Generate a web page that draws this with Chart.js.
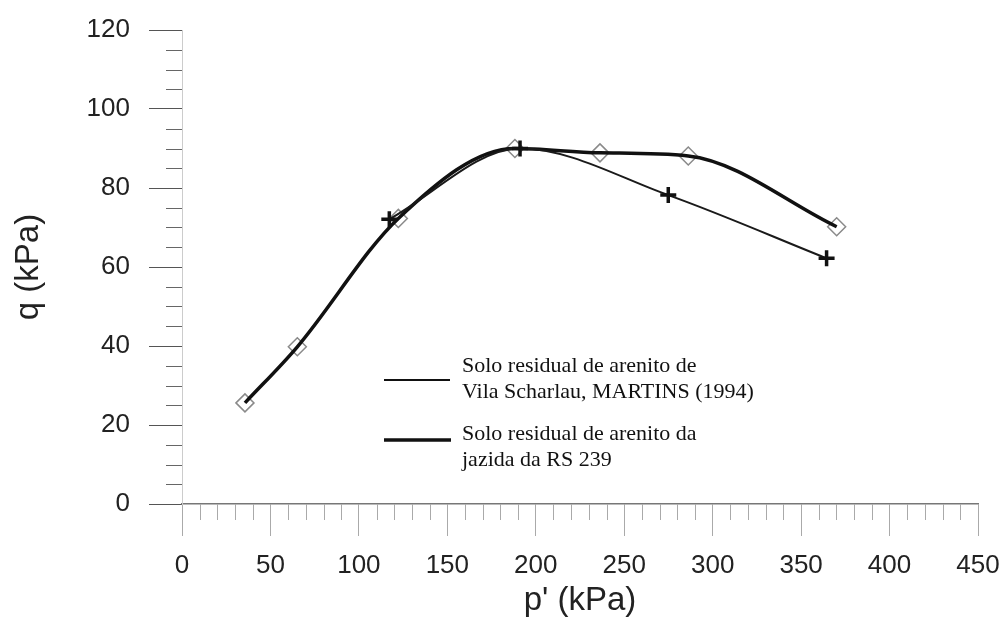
<!DOCTYPE html>
<html><head><meta charset="utf-8">
<script src="https://cdn.jsdelivr.net/npm/chart.js@4.4.0/dist/chart.umd.min.js"></script>
<style>html,body{margin:0;padding:0;background:#fff}#wrap{width:1006px;height:618px;position:relative}</style>
</head><body><div id="wrap"><canvas id="c" width="1006" height="618"></canvas></div>
<script>
// Data
const pRS239 = [35.6, 65.2, 122.3, 188.2, 236.3, 286.2, 370.1];
const qRS239 = [25.6, 39.8, 72.3, 90.0, 88.9, 88.1, 70.2];
const pMartins = [117.2, 191.1, 274.9, 364.4];
const qMartins = [72.1, 90.0, 78.2, 62.2];
const xTickValues = [0, 50, 100, 150, 200, 250, 300, 350, 400, 450];
const yTickValues = [0, 20, 40, 60, 80, 100, 120];
const labelMartins = ['Solo residual de arenito de', 'Vila Scharlau, MARTINS (1994)'];
const labelRS239 = ['Solo residual de arenito da', 'jazida da RS 239'];
const xTitle = "p' (kPa)";
const yTitle = 'q (kPa)';

const toXY = (xs, ys) => xs.map((x, i) => ({x: x, y: ys[i]}));

const minorTicks = {
  id: 'minorTicks',
  beforeDatasetsDraw(chart) {
    const ctx = chart.ctx, xs = chart.scales.x, ys = chart.scales.y;
    ctx.save();
    ctx.lineWidth = 1;
    ctx.strokeStyle = '#aaa';
    for (let v = 10; v < 450; v += 10) {
      if (v % 50 === 0) continue;
      const px = Math.round(xs.getPixelForValue(v)) + 0.5;
      ctx.beginPath(); ctx.moveTo(px, ys.bottom); ctx.lineTo(px, ys.bottom + 16); ctx.stroke();
    }
    ctx.strokeStyle = '#666';
    for (let v = 5; v < 120; v += 5) {
      if (v % 20 === 0) continue;
      const py = Math.round(ys.getPixelForValue(v)) + 0.5;
      ctx.beginPath(); ctx.moveTo(xs.left - 16, py); ctx.lineTo(xs.left, py); ctx.stroke();
    }
    ctx.restore();
  }
};

const textLegend = {
  id: 'textLegend',
  afterDraw(chart) {
    const ctx = chart.ctx;
    ctx.save();
    ctx.strokeStyle = '#111';
    ctx.lineWidth = 2;
    ctx.beginPath(); ctx.moveTo(384, 380); ctx.lineTo(450, 380); ctx.stroke();
    ctx.lineWidth = 3.5;
    ctx.beginPath(); ctx.moveTo(384, 440); ctx.lineTo(451, 440); ctx.stroke();
    ctx.fillStyle = '#111';
    ctx.font = '22px "Liberation Serif", "DejaVu Serif", serif';
    ctx.textBaseline = 'alphabetic';
    ctx.textAlign = 'left';
    ctx.fillText(labelMartins[0], 462, 372);
    ctx.fillText(labelMartins[1], 462, 398);
    ctx.fillText(labelRS239[0], 462, 440);
    ctx.fillText(labelRS239[1], 462, 466);
    ctx.restore();
  }
};

new Chart(document.getElementById('c'), {
  type: 'scatter',
  data: {
    datasets: [
      {
        label: labelMartins.join(' '),
        data: toXY(pMartins, qMartins),
        showLine: true,
        borderColor: '#1a1a1a',
        borderWidth: 2,
        cubicInterpolationMode: 'monotone',
        pointStyle: 'cross',
        pointRadius: 8,
        pointBorderWidth: 3.5,
        pointBorderColor: '#111',
        pointBackgroundColor: '#111',
        order: 0
      },
      {
        label: labelRS239.join(' '),
        data: toXY(pRS239, qRS239),
        showLine: true,
        borderColor: '#111',
        borderWidth: 3.5,
        cubicInterpolationMode: 'monotone',
        pointRadius: 0,
        order: 1
      },
      {
        label: 'markers',
        data: toXY(pRS239, qRS239),
        showLine: false,
        pointStyle: 'rectRot',
        pointRadius: 9,
        pointBorderWidth: 1.5,
        pointBorderColor: '#8a8a8a',
        pointBackgroundColor: 'rgba(255,255,255,0)',
        order: 2
      }
    ]
  },
  options: {
    responsive: false,
    animation: false,
    devicePixelRatio: 1,
    layout: {padding: {top: 30, right: 28, left: 0, bottom: 0}},
    plugins: {legend: {display: false}, tooltip: {enabled: false}},
    scales: {
      x: {
        type: 'linear', min: 0, max: 450,
        afterBuildTicks: s => { s.ticks = xTickValues.map(v => ({value: v})); },
        afterFit: s => { s.height = 114; s.paddingRight = 0; s.paddingLeft = 0; },
        ticks: {
          font: {family: '"Liberation Sans", Arial, sans-serif', size: 26},
          color: '#222', padding: 14, maxRotation: 0, autoSkip: false
        },
        grid: {drawOnChartArea: false, drawTicks: true, tickLength: 32, color: '#aaa', lineWidth: 1},
        border: {display: true, color: '#777', width: 1.5},
        title: {
          display: true, text: xTitle, color: '#222',
          font: {family: '"Liberation Sans", Arial, sans-serif', size: 33},
          padding: {top: 0, bottom: -3}
        }
      },
      y: {
        type: 'linear', min: 0, max: 120,
        afterBuildTicks: s => { s.ticks = yTickValues.map(v => ({value: v})); },
        afterFit: s => { s.width = 182; s.paddingTop = 0; s.paddingBottom = 0; },
        ticks: {
          font: {family: '"Liberation Sans", Arial, sans-serif', size: 26},
          color: '#222', padding: 19, autoSkip: false
        },
        grid: {drawOnChartArea: false, drawTicks: true, tickLength: 33, color: '#555', lineWidth: 1},
        border: {display: true, color: '#ccc', width: 1},
        title: {
          display: true, text: yTitle, color: '#222',
          font: {family: '"Liberation Sans", Arial, sans-serif', size: 33},
          padding: {top: 9, bottom: 0}
        }
      }
    }
  },
  plugins: [minorTicks, textLegend]
});
</script>
</body></html>
